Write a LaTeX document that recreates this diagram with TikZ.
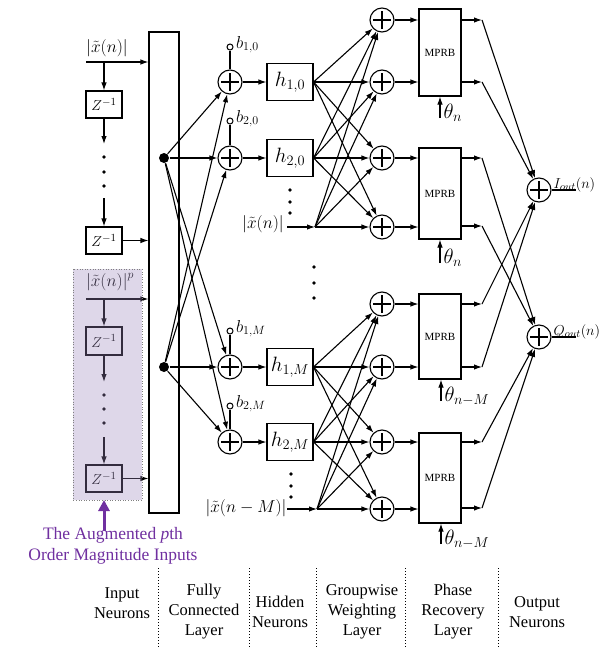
\documentclass[tikz,border=0pt]{standalone}
\usepackage{fontspec}
\setmainfont{Liberation Serif}
\usetikzlibrary{arrows.meta}

\definecolor{augfill}{RGB}{155,135,189}
\definecolor{augtext}{RGB}{112,48,160}

\begin{document}
\begin{tikzpicture}[x=1pt,y=-1pt,
  line width=1.1pt,
  >={Latex[length=8pt,width=5.5pt]},
  sumnode/.style={circle,draw,minimum size=24pt,inner sep=0pt,
    path picture={
      \draw[line width=1.1pt] ([xshift=-9pt]path picture bounding box.center) -- ([xshift=9pt]path picture bounding box.center);
      \draw[line width=1.1pt] ([yshift=-9pt]path picture bounding box.center) -- ([yshift=9pt]path picture bounding box.center);}},
  zbox/.style={draw,minimum width=36pt,minimum height=27pt,inner sep=0pt,font=\fontsize{15}{15}\selectfont},
  hbox/.style={draw,minimum width=46pt,minimum height=37pt,inner sep=0pt,font=\fontsize{20}{20}\selectfont},
  mprb/.style={draw,minimum width=42pt,inner sep=0pt,font=\fontsize{11}{11}\selectfont},
  bias/.style={circle,draw,minimum size=6pt,inner sep=0pt,line width=1pt},
  junction/.style={circle,fill,minimum size=10pt,inner sep=0pt},
  vdot/.style={circle,fill,minimum size=3.6pt,inner sep=0pt},
  mag/.style={font=\fontsize{18}{18}\selectfont,inner sep=0pt},
  blabel/.style={font=\fontsize{17}{17}\selectfont,anchor=base west,inner sep=1pt},
  thlabel/.style={font=\fontsize{20}{20}\selectfont,anchor=west,inner sep=1pt},
  outlabel/.style={font=\fontsize{15}{15}\selectfont,anchor=base west,inner sep=0pt},
  layerlabel/.style={font=\fontsize{16.5}{20}\selectfont,align=center},
  divider/.style={line width=1pt,dotted}
]
\useasboundingbox (0,0) rectangle (605,648);

% ---------------- input neurons ----------------
\node[draw,minimum width=30pt,minimum height=481pt,inner sep=0pt] (fc) at (164,272.5) {};

\node[mag] (xin) at (107,48) {$\left|\tilde{x}(n)\right|$};
\coordinate (a1) at (86,62);
\coordinate (t1) at (104,62);
\draw[->] (a1) -- (a1 -| fc.west);
\node[zbox] (z1) at (104,104.5) {$Z^{-1}$};
\draw[->] (t1) -- (z1.north);
\coordinate (e1) at (104,144);
\draw[->] (z1.south) -- (e1);
\foreach \y in {157,172,186} \node[vdot] at (104,\y) {};
\coordinate (s1) at (104,198);
\node[zbox] (z2) at (104,240.5) {$Z^{-1}$};
\draw[->] (s1) -- (z2.north);
\draw[->] (z2.east) -- (z2.east -| fc.west);

% augmented p-th order magnitude inputs
\node[mag] (xinp) at (110,282) {$\left|\tilde{x}(n)\right|^{p}$};
\coordinate (a2) at (86,299);
\coordinate (t2) at (104,299);
\draw[->] (a2) -- (a2 -| fc.west);
\node[zbox,minimum height=28pt] (z3) at (104,341) {$Z^{-1}$};
\draw[->] (t2) -- (z3.north);
\coordinate (e2) at (104,382);
\draw[->] (z3.south) -- (e2);
\foreach \y in {395,409,423} \node[vdot] at (104,\y) {};
\coordinate (s2) at (104,437);
\node[zbox] (z4) at (104,478.5) {$Z^{-1}$};
\draw[->] (s2) -- (z4.north);
\draw[->] (z4.east) -- (z4.east -| fc.west);

\fill[augfill,fill opacity=0.33] (73,269) rectangle (142,500);
\draw[gray,line width=0.6pt,dotted] (73,269) rectangle (142,500);

\coordinate (pa) at (104,531);
\coordinate (pb) at (104,500);
\draw[augtext,line width=3pt,-{Triangle[length=11pt,width=11pt]}] (pa) -- (pb);
\node[augtext,font=\fontsize{17.5}{21}\selectfont,align=center] (augl) at (113,546)
  {The Augmented \textit{p}th\\Order Magnitude Inputs};

% ---------------- fully connected layer ----------------
\node[junction] (d1) at (164,158) {};
\node[junction] (d2) at (164,367) {};

\node[sumnode] (s10) at (230,82) {};
\node[sumnode] (s20) at (230,158) {};
\node[sumnode] (s1M) at (230,367) {};
\node[sumnode] (s2M) at (230,442) {};

\foreach \d in {d1,d2}
  \foreach \s in {s10,s20,s1M,s2M}
    \draw[->] (\d) -- (\s);

% biases
\node[bias] (b10) at (230,47) {};
\node[bias] (b20) at (230,121) {};
\node[bias] (b1M) at (230,331) {};
\node[bias] (b2M) at (230,406) {};
\draw (b10) -- (s10);
\draw (b20) -- (s20);
\draw (b1M) -- (s1M);
\draw (b2M) -- (s2M);
\node[blabel] at ([xshift=1pt,yshift=-1pt]b10.east) {$b_{1,0}$};
\node[blabel] at ([xshift=1pt,yshift=-1pt]b20.east) {$b_{2,0}$};
\node[blabel] at ([xshift=1pt,yshift=-1pt]b1M.east) {$b_{1,M}$};
\node[blabel] at ([xshift=1pt,yshift=-1pt]b2M.east) {$b_{2,M}$};

% ---------------- hidden neurons ----------------
\node[hbox] (h10) at (290,82) {$h_{1,0}$};
\node[hbox] (h20) at (290,158) {$h_{2,0}$};
\node[hbox] (h1M) at (290,367) {$h_{1,M}$};
\node[hbox] (h2M) at (290,442) {$h_{2,M}$};
\draw[->] (s10) -- (h10);
\draw[->] (s20) -- (h20);
\draw[->] (s1M) -- (h1M);
\draw[->] (s2M) -- (h2M);

\foreach \y in {190,202,213} \node[vdot] at (290,\y) {};
\foreach \y in {474,486,497} \node[vdot] at (291,\y) {};
\foreach \y in {267,283,298} \node[vdot] at (314,\y) {};

\node[mag] (xh1) at (263,224) {$\left|\tilde{x}(n)\right|$};
\coordinate (l1) at (287,227);
\coordinate (f1) at (315,227);
\draw[->] (l1) -- (f1);

\node[mag] (xh2) at (246,508) {$\left|\tilde{x}(n-M)\right|$};
\coordinate (l2) at (287,509);
\coordinate (f2) at (317,509);
\draw[->] (l2) -- (f2);

% ---------------- groupwise weighting layer ----------------
\node[sumnode] (g1) at (382,20) {};
\node[sumnode] (g2) at (382,82) {};
\node[sumnode] (g3) at (382,158) {};
\node[sumnode] (g4) at (382,227) {};
\node[sumnode] (g5) at (382,304) {};
\node[sumnode] (g6) at (382,367) {};
\node[sumnode] (g7) at (382,442) {};
\node[sumnode] (g8) at (382,509) {};

\foreach \src in {h10.east,h20.east,f1}
  \foreach \g in {g1,g2,g3,g4}
    \draw[->] (\src) -- (\g);
\foreach \src in {h1M.east,h2M.east,f2}
  \foreach \g in {g5,g6,g7,g8}
    \draw[->] (\src) -- (\g);

% ---------------- phase recovery layer ----------------
\node[mprb,minimum height=87pt] (m1) at (440,52.5) {MPRB};
\node[mprb,minimum height=91pt] (m2) at (440,193.5) {MPRB};
\node[mprb,minimum height=85pt] (m3) at (440,336.5) {MPRB};
\node[mprb,minimum height=90pt] (m4) at (440,478) {MPRB};

\draw[->] (g1) -- (g1 -| m1.west);
\draw[->] (g2) -- (g2 -| m1.west);
\draw[->] (g3) -- (g3 -| m2.west);
\draw[->] (g4) -- (g4 -| m2.west);
\draw[->] (g5) -- (g5 -| m3.west);
\draw[->] (g6) -- (g6 -| m3.west);
\draw[->] (g7) -- (g7 -| m4.west);
\draw[->] (g8) -- (g8 -| m4.west);

\coordinate (th1) at (440,118);
\coordinate (th2) at (440,263);
\coordinate (th3) at (441,401);
\coordinate (th4) at (441,544);
\draw[->] (th1) -- (th1 |- m1.south);
\draw[->] (th2) -- (th2 |- m2.south);
\draw[->] (th3) -- (th3 |- m3.south);
\draw[->] (th4) -- (th4 |- m4.south);
\node[thlabel] at (442,113) {$\theta_{n}$};
\node[thlabel] at (442,258) {$\theta_{n}$};
\node[thlabel] at (443,396) {$\theta_{n-M}$};
\node[thlabel] at (443,539) {$\theta_{n-M}$};

% MPRB outputs
\coordinate (p1) at (482,20);
\coordinate (p2) at (482,82);
\coordinate (p3) at (482,158);
\coordinate (p4) at (482,226);
\coordinate (p5) at (482,304);
\coordinate (p6) at (482,367);
\coordinate (p7) at (482,442);
\coordinate (p8) at (482,508);
\draw[->] (p1 -| m1.east) -- (p1);
\draw[->] (p2 -| m1.east) -- (p2);
\draw[->] (p3 -| m2.east) -- (p3);
\draw[->] (p4 -| m2.east) -- (p4);
\draw[->] (p5 -| m3.east) -- (p5);
\draw[->] (p6 -| m3.east) -- (p6);
\draw[->] (p7 -| m4.east) -- (p7);
\draw[->] (p8 -| m4.east) -- (p8);

% ---------------- output neurons ----------------
\node[sumnode] (iout) at (539,190) {};
\node[sumnode] (qout) at (539,337) {};
\foreach \p in {p1,p2,p5,p6} \draw[->] (\p) -- (iout);
\foreach \p in {p3,p4,p7,p8} \draw[->] (\p) -- (qout);

\coordinate (ie) at (576,190);
\coordinate (qe) at (576,337);
\draw (iout) -- (ie);
\draw (qout) -- (qe);
\node[outlabel] at (553,188) {$I_{out}(n)$};
\node[outlabel] at (553,335) {$Q_{out}(n)$};

% ---------------- layer captions ----------------
\foreach \x in {158,249,316,405,498}
  \draw[divider] (\x,568) -- (\x,648);
\node[layerlabel] at (122,603) {Input\\Neurons};
\node[layerlabel] at (204,612) {Fully\\Connected\\Layer};
\node[layerlabel] at (280,612) {Hidden\\Neurons};
\node[layerlabel] at (362,612) {Groupwise\\Weighting\\Layer};
\node[layerlabel] at (453,612) {Phase\\Recovery\\Layer};
\node[layerlabel] at (537,612) {Output\\Neurons};
\end{tikzpicture}
\end{document}
